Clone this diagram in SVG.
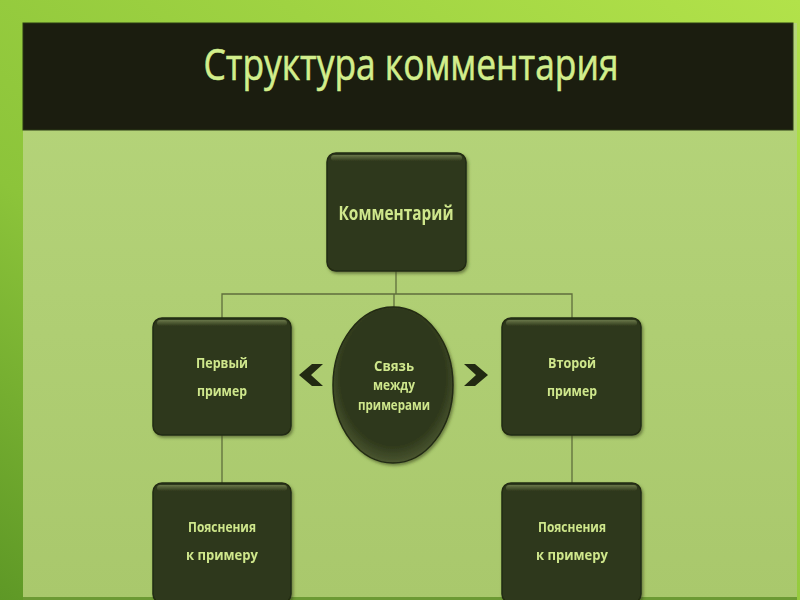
<svg xmlns="http://www.w3.org/2000/svg" width="800" height="600" viewBox="0 0 800 600">
<defs>
<linearGradient id="bg" x1="0" y1="1" x2="1" y2="0">
<stop offset="0" stop-color="#5e9826"/>
<stop offset="0.35" stop-color="#8cc43a"/>
<stop offset="1" stop-color="#b2e24a"/>
</linearGradient>
<linearGradient id="panel" x1="0" y1="0" x2="0" y2="1">
<stop offset="0" stop-color="#b6d57b"/>
<stop offset="1" stop-color="#a9c86c"/>
</linearGradient>
<linearGradient id="gloss" x1="0" y1="0" x2="0" y2="1">
<stop offset="0" stop-color="#6f7d4e"/>
<stop offset="1" stop-color="#2f381c"/>
</linearGradient>
<radialGradient id="ell" cx="0.5" cy="0.45" r="0.55">
<stop offset="0.8" stop-color="#2f391c"/>
<stop offset="1" stop-color="#4a5630"/>
</radialGradient>
<filter id="sh" x="-10%" y="-10%" width="130%" height="130%">
<feDropShadow dx="1.5" dy="2" stdDeviation="1.5" flood-color="#3c4a20" flood-opacity="0.6"/>
</filter>
</defs>
<style>
.box{fill:#2f391c;stroke:#222a12;stroke-width:1.5}
.hl{fill:url(#gloss);opacity:0.9}
.t{font-family:"Open Sans","Noto Sans","DejaVu Sans",sans-serif;font-weight:bold;fill:#cfe78c;text-anchor:middle}
.ln{stroke:#5f6e3c;stroke-width:1.3;fill:none}
.chev{fill:#222a12}
</style>
<rect x="0" y="0" width="800" height="600" fill="url(#bg)"/>
<rect x="23" y="23" width="774" height="577" fill="url(#panel)"/>
<rect x="23" y="597" width="774" height="3" fill="#6c9a34"/>
<rect x="23" y="23" width="770" height="107" fill="#1b1d0f" stroke="#2a3a14" stroke-width="1"/>
<text x="411" y="80" font-family="'Open Sans','Noto Sans',sans-serif" font-size="44" fill="#d2ee8c" stroke="#d2ee8c" stroke-width="0.6" text-anchor="middle" textLength="415" lengthAdjust="spacingAndGlyphs">Структура комментария</text>

<g id="connectors" class="ln">
<path d="M396 271 V294"/>
<path d="M222 318 V294 H572 V318"/>
<path d="M394 294 V307"/>
<path d="M222 435 V483"/>
<path d="M572 435 V483"/>
</g>

<g id="n-comment" filter="url(#sh)">
<rect class="box" x="327" y="153" width="139" height="118" rx="9"/>
<rect class="hl" x="331" y="155" width="131" height="6" rx="3"/>
<text class="t" x="396" y="220" font-size="19" textLength="115" lengthAdjust="spacingAndGlyphs">Комментарий</text>
</g>

<g id="n-first" filter="url(#sh)">
<rect class="box" x="153" y="318" width="138" height="117" rx="9"/>
<rect class="hl" x="157" y="320" width="130" height="6" rx="3"/>
<text class="t" x="222" y="368" font-size="14" textLength="52" lengthAdjust="spacingAndGlyphs">Первый</text>
<text class="t" x="222" y="396" font-size="14" textLength="50" lengthAdjust="spacingAndGlyphs">пример</text>
</g>

<g id="n-link" filter="url(#sh)">
<ellipse cx="393" cy="385" rx="60" ry="78" fill="url(#ell)" stroke="#222a12" stroke-width="1.5"/>
<text class="t" x="394" y="371" font-size="13.5" textLength="40" lengthAdjust="spacingAndGlyphs">Связь</text>
<text class="t" x="394" y="390" font-size="13.5" textLength="42" lengthAdjust="spacingAndGlyphs">между</text>
<text class="t" x="394" y="410" font-size="13.5" textLength="72" lengthAdjust="spacingAndGlyphs">примерами</text>
</g>

<g id="n-second" filter="url(#sh)">
<rect class="box" x="502" y="318" width="139" height="117" rx="9"/>
<rect class="hl" x="506" y="320" width="131" height="6" rx="3"/>
<text class="t" x="572" y="368" font-size="14" textLength="48" lengthAdjust="spacingAndGlyphs">Второй</text>
<text class="t" x="572" y="396" font-size="14" textLength="50" lengthAdjust="spacingAndGlyphs">пример</text>
</g>

<g id="n-expl1" filter="url(#sh)">
<rect class="box" x="153" y="483" width="138" height="120" rx="9"/>
<rect class="hl" x="157" y="485" width="130" height="6" rx="3"/>
<text class="t" x="222" y="532" font-size="14" textLength="68" lengthAdjust="spacingAndGlyphs">Пояснения</text>
<text class="t" x="222" y="560" font-size="14" textLength="72" lengthAdjust="spacingAndGlyphs">к примеру</text>
</g>

<g id="n-expl2" filter="url(#sh)">
<rect class="box" x="502" y="483" width="139" height="120" rx="9"/>
<rect class="hl" x="506" y="485" width="131" height="6" rx="3"/>
<text class="t" x="572" y="532" font-size="14" textLength="68" lengthAdjust="spacingAndGlyphs">Пояснения</text>
<text class="t" x="572" y="560" font-size="14" textLength="72" lengthAdjust="spacingAndGlyphs">к примеру</text>
</g>

<g id="arrows">
<polygon class="chev" points="323,364 312,364 299,375 312,386 323,386 311,375"/>
<polygon class="chev" points="464,364 475,364 488,375 475,386 464,386 476,375"/>
</g>
</svg>
